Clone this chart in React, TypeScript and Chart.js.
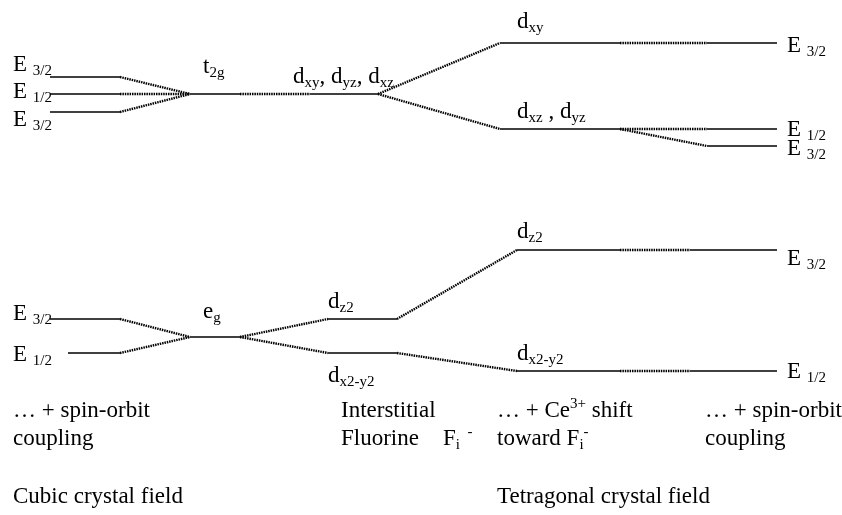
import React, { useEffect, useRef } from "react";
import { Chart, registerables } from "chart.js";

Chart.register(...registerables);

// ---- Diagram data (x: horizontal stage position, y: energy position, top = high) ----
type P = [number, number];
type Seg = [P, P];

// Solid energy levels
const cubicT2gSpinOrbit: Seg[] = [
  [[50, 77], [120, 77]],
  [[50, 94], [120, 94]],
  [[50, 112], [120, 112]],
];
const t2gLevel: Seg[] = [
  [[190, 94], [240, 94]],
  [[310, 94], [378, 94]],
];
const tetragonalT2: Seg[] = [
  [[500, 43], [620, 43]],
  [[500, 129], [620, 129]],
];
const tetragonalT2SpinOrbit: Seg[] = [
  [[707, 43], [777, 43]],
  [[707, 129], [777, 129]],
  [[707, 146], [777, 146]],
];
const cubicEgSpinOrbit: Seg[] = [
  [[50, 319], [120, 319]],
  [[68, 353], [120, 353]],
];
const egLevel: Seg[] = [[[190, 337], [240, 337]]];
const interstitialE: Seg[] = [
  [[328, 319], [397, 319]],
  [[328, 353], [397, 353]],
];
const shiftedE: Seg[] = [
  [[517, 250], [620, 250]],
  [[517, 371], [620, 371]],
];
const shiftedESpinOrbit: Seg[] = [
  [[690, 250], [777, 250]],
  [[690, 371], [777, 371]],
];

// Dotted correlation lines
const t2gConnectors: Seg[] = [
  [[120, 77], [190, 94]],
  [[120, 94], [190, 94]],
  [[120, 112], [190, 94]],
  [[240, 94], [310, 94]],
  [[378, 94], [500, 43]],
  [[378, 94], [500, 129]],
  [[620, 43], [707, 43]],
  [[620, 129], [707, 129]],
  [[620, 129], [707, 146]],
];
const egConnectors: Seg[] = [
  [[120, 319], [190, 337]],
  [[120, 353], [190, 337]],
  [[240, 337], [328, 319]],
  [[240, 337], [328, 353]],
  [[397, 319], [517, 250]],
  [[397, 353], [517, 371]],
  [[620, 250], [690, 250]],
  [[620, 371], [690, 371]],
];

// Labels: [x, baseline y, parts]; part mode: "" normal, "b" subscript, "p" superscript
type Part = [string, string];
type Label = [number, number, Part[]];

const levelLabels: Label[] = [
  [13, 71, [["E ", ""], ["3/2", "b"]]],
  [13, 98, [["E ", ""], ["1/2", "b"]]],
  [13, 126, [["E ", ""], ["3/2", "b"]]],
  [203, 73, [["t", ""], ["2g", "b"]]],
  [293, 83, [["d", ""], ["xy", "b"], [", d", ""], ["yz", "b"], [", d", ""], ["xz", "b"]]],
  [517, 28, [["d", ""], ["xy", "b"]]],
  [787, 52, [["E ", ""], ["3/2", "b"]]],
  [517, 118, [["d", ""], ["xz", "b"], [" , d", ""], ["yz", "b"]]],
  [787, 136, [["E ", ""], ["1/2", "b"]]],
  [787, 155, [["E ", ""], ["3/2", "b"]]],
  [13, 320, [["E ", ""], ["3/2", "b"]]],
  [13, 361, [["E ", ""], ["1/2", "b"]]],
  [203, 318, [["e", ""], ["g", "b"]]],
  [328, 308, [["d", ""], ["z2", "b"]]],
  [328, 382, [["d", ""], ["x2-y2", "b"]]],
  [517, 238, [["d", ""], ["z2", "b"]]],
  [517, 360, [["d", ""], ["x2-y2", "b"]]],
  [787, 265, [["E ", ""], ["3/2", "b"]]],
  [787, 378, [["E ", ""], ["1/2", "b"]]],
];

const stageLabels: Label[] = [
  [13, 417, [["… + spin-orbit", ""]]],
  [13, 445, [["coupling", ""]]],
  [341, 417, [["Interstitial", ""]]],
  [341, 445, [["Fluorine", ""]]],
  [443, 445, [["F", ""], ["i", "b"], ["  -", "p"]]],
  [497, 417, [["… + Ce", ""], ["3+", "p"], [" shift", ""]]],
  [497, 445, [["toward F", ""], ["i", "b"], ["-", "p"]]],
  [705, 417, [["… + spin-orbit", ""]]],
  [705, 445, [["coupling", ""]]],
  [13, 503, [["Cubic crystal field", ""]]],
  [497, 503, [["Tetragonal crystal field", ""]]],
];

const FONT = '"Liberation Serif", "Times New Roman", serif';
const MAIN_SIZE = 23;
const SUB_SIZE = 15;

function segDatasets(segs: Seg[], dotted: boolean) {
  return segs.map((s) => ({
    data: s.map((p) => ({ x: p[0], y: p[1] })),
    showLine: true,
    borderColor: "#000",
    borderWidth: dotted ? 2.4 : 1.6,
    borderDash: dotted ? [1.5, 0.9] : [],
    pointRadius: 0,
    fill: false,
    tension: 0,
  }));
}

const labelPlugin = {
  id: "levelLabels",
  afterDraw(chart: any) {
    const ctx = chart.ctx as CanvasRenderingContext2D;
    const xs = chart.scales.x;
    const ys = chart.scales.y;
    ctx.save();
    ctx.fillStyle = "#000";
    ctx.textBaseline = "alphabetic";
    ctx.textAlign = "left";
    const all = [...levelLabels, ...stageLabels];
    for (const [lx, ly, parts] of all) {
      let px = xs.getPixelForValue(lx);
      const py = ys.getPixelForValue(ly);
      for (const [txt, mode] of parts) {
        if (mode === "b") {
          ctx.font = `${SUB_SIZE}px ${FONT}`;
          ctx.fillText(txt, px, py + 4);
        } else if (mode === "p") {
          ctx.font = `${SUB_SIZE}px ${FONT}`;
          ctx.fillText(txt, px, py - 9);
        } else {
          ctx.font = `${MAIN_SIZE}px ${FONT}`;
          ctx.fillText(txt, px, py);
        }
        px += ctx.measureText(txt).width;
      }
    }
    ctx.restore();
  },
};

export default function App() {
  const ref = useRef<HTMLCanvasElement>(null);
  useEffect(() => {
    document.body.style.margin = "0";
    document.body.style.background = "#fff";
    const datasets = [
      ...segDatasets(cubicT2gSpinOrbit, false),
      ...segDatasets(t2gLevel, false),
      ...segDatasets(tetragonalT2, false),
      ...segDatasets(tetragonalT2SpinOrbit, false),
      ...segDatasets(cubicEgSpinOrbit, false),
      ...segDatasets(egLevel, false),
      ...segDatasets(interstitialE, false),
      ...segDatasets(shiftedE, false),
      ...segDatasets(shiftedESpinOrbit, false),
      ...segDatasets(t2gConnectors, true),
      ...segDatasets(egConnectors, true),
    ];
    const chart = new Chart(ref.current!, {
      type: "scatter",
      data: { datasets } as any,
      options: {
        responsive: false,
        animation: false,
        layout: { padding: 0 },
        plugins: { legend: { display: false }, tooltip: { enabled: false } },
        scales: {
          x: { type: "linear", min: 0, max: 842, display: false },
          y: { type: "linear", min: 0, max: 515, reverse: true, display: false },
        },
      },
      plugins: [labelPlugin],
    });
    return () => chart.destroy();
  }, []);
  return (
    <div style={{ position: "absolute", left: 0, top: 0, width: 842, height: 515, background: "#fff" }}>
      <canvas ref={ref} width={842} height={515} />
    </div>
  );
}
